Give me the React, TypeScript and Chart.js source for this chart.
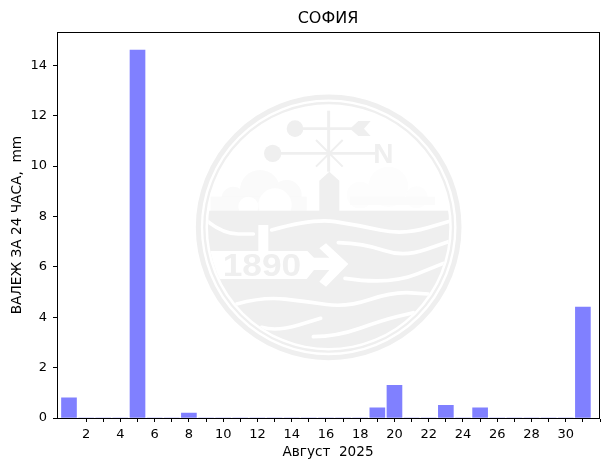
import React, { useEffect, useRef } from "react";
import { Chart, registerables } from "chart.js";

Chart.register(...registerables);

const days = Array.from({ length: 31 }, (_, i) => i + 1);
const rainfall = [
  0.8, 0, 0, 0, 14.6, 0, 0, 0.2, 0, 0, 0, 0, 0, 0, 0, 0, 0, 0, 0.4, 1.3, 0, 0, 0.5, 0, 0.4, 0, 0, 0, 0, 0, 4.4,
];
const xTicks = [2, 3, 4, 5, 6, 7, 8, 9, 10, 11, 12, 13, 14, 15, 16, 17, 18, 19, 20, 21, 22, 23, 24, 25, 26, 27, 28, 29, 30, 31, 32];
const yTicks = [0, 2, 4, 6, 8, 10, 12, 14];
const titleText = "СОФИЯ";
const xTitle = "Август  2025";
const yTitle = "ВАЛЕЖ ЗА 24 ЧАСА,  mm";
const FONT = "'DejaVu Sans'";
const LOGO = "#efefef";

type P = [number, number];
const waves: P[][] = [
  [[50, 392], [100, 432], [190, 432]],
  [[245, 420], [370, 385], [500, 405], [640, 435], [785, 392]],
  [[445, 458], [520, 460], [640, 502], [775, 455]],
  [[465, 565], [600, 585], [760, 520]],
  [[140, 642], [220, 620], [350, 635], [470, 652], [610, 605], [715, 612]],
  [[215, 712], [260, 725], [392, 685]],
  [[370, 740], [440, 740], [580, 690], [670, 668]],
];
const banner: P[] = [
  [40, 483], [352, 483], [372, 503], [418, 503], [388, 475], [408, 460], [475, 522], [408, 590], [388, 575], [418, 540], [372, 540], [350, 567], [40, 567],
];
const tower: P[] = [[388, 365], [388, 272], [418, 245], [448, 272], [448, 365]];

function drawLogo(c: CanvasRenderingContext2D) {
  const X = (v: number) => 190 + v / 3;
  const Y = (v: number) => 90 + v / 3;
  const R = (v: number) => v / 3;
  const cx = X(416), cy = Y(412);
  const poly = (pts: P[]) => {
    c.beginPath();
    pts.forEach(([a, b], i) => (i ? c.lineTo(X(a), Y(b)) : c.moveTo(X(a), Y(b))));
    c.closePath();
    c.fill();
  };
  const line = (a: number, b: number, d: number, e: number, w: number) => {
    c.lineWidth = R(w);
    c.beginPath();
    c.moveTo(X(a), Y(b));
    c.lineTo(X(d), Y(e));
    c.stroke();
  };
  const disc = (a: number, b: number, r: number) => {
    c.beginPath();
    c.arc(X(a), Y(b), R(r), 0, Math.PI * 2);
    c.fill();
  };
  c.save();
  c.strokeStyle = LOGO;
  c.fillStyle = LOGO;
  c.lineWidth = R(15);
  c.beginPath();
  c.arc(cx, cy, R(391), 0, Math.PI * 2);
  c.stroke();
  c.lineWidth = R(7);
  c.beginPath();
  c.arc(cx, cy, R(373), 0, Math.PI * 2);
  c.stroke();

  c.fillStyle = "#fafafa";
  [[210, 300, 60], [130, 325, 35], [290, 315, 45]].forEach(([a, b, r]) => disc(a, b, r));
  c.fillRect(X(62), Y(320), R(288), R(42));
  c.fillStyle = "#ffffff";
  [[255, 345, 50], [175, 350, 30]].forEach(([a, b, r]) => disc(a, b, r));
  c.fillStyle = "#fdfdfd";
  [[595, 290, 60], [510, 315, 40], [680, 322, 33]].forEach(([a, b, r]) => disc(a, b, r));
  c.fillStyle = "#fbfbfb";
  c.fillRect(X(480), Y(320), R(255), R(25));
  c.fillStyle = LOGO;

  // lower half
  c.save();
  c.beginPath();
  c.arc(cx, cy, R(362), 0, Math.PI * 2);
  c.clip();
  c.fillRect(X(30), Y(362), R(780), R(440));
  c.fillStyle = "#ffffff";
  c.strokeStyle = "#ffffff";
  c.lineCap = "round";
  c.lineWidth = R(11);
  waves.forEach((w) => {
    c.beginPath();
    c.moveTo(X(w[0][0]), Y(w[0][1]));
    for (let i = 1; i < w.length - 1; i++) {
      const mx = (w[i][0] + w[i + 1][0]) / 2, my = (w[i][1] + w[i + 1][1]) / 2;
      c.quadraticCurveTo(X(w[i][0]), Y(w[i][1]), X(mx), Y(my));
    }
    const l = w[w.length - 1];
    c.lineTo(X(l[0]), Y(l[1]));
    c.stroke();
  });
  poly(banner);
  c.fillRect(X(205), Y(405), R(30), R(82));
  c.restore();

  c.fillStyle = LOGO;
  c.strokeStyle = LOGO;
  c.font = `bold ${R(92)}px 'Liberation Sans'`;
  c.textAlign = "left";
  c.textBaseline = "alphabetic";
  c.save();
  c.translate(X(98), Y(557));
  c.scale(1.15, 1);
  c.fillText("1890", 0, 0);
  c.restore();

  poly(tower);
  line(416, 62, 416, 245, 9);
  line(315, 116, 510, 116, 8);
  line(248, 190, 555, 190, 8);
  line(378, 150, 458, 230, 6);
  line(458, 150, 378, 230, 6);
  disc(315, 116, 25);
  disc(248, 190, 26);
  poly([[480, 116], [505, 93], [542, 93], [522, 116], [542, 138], [505, 138]]);
  c.font = `bold ${R(84)}px 'Liberation Sans'`;
  c.fillText("N", X(550), Y(220));
  c.restore();
}

const decor = {
  id: "decor",
  beforeDatasetsDraw(chart: any) {
    drawLogo(chart.ctx);
  },
  afterDraw(chart: any) {
    const { left, right, top, bottom } = chart.chartArea;
    const c = chart.ctx;
    c.save();
    c.strokeStyle = "#000";
    c.lineWidth = 1;
    c.strokeRect(Math.round(left) + 0.5, Math.round(top) + 0.5, Math.round(right - left), Math.round(bottom - top));
    c.restore();
  },
};

export default function App() {
  const ref = useRef<HTMLCanvasElement>(null);
  useEffect(() => {
    const chart = new Chart(ref.current!, {
      type: "bar",
      data: {
        datasets: [
          {
            data: days.map((d, i) => ({ x: d, y: rainfall[i] })),
            backgroundColor: "#8080ff",
            barThickness: 15,
            borderWidth: 0,
          },
        ],
      },
      options: {
        animation: false,
        responsive: false,
        layout: { padding: { left: 0, right: 10, top: 0, bottom: 0 } },
        plugins: {
          legend: { display: false },
          tooltip: { enabled: false },
          title: {
            display: true,
            fullSize: false,
            text: titleText,
            color: "#000",
            font: { family: FONT, size: 16, weight: "normal" },
            padding: { top: 9, bottom: 4 },
          },
        },
        scales: {
          x: {
            type: "linear",
            min: 0.3,
            max: 31.94,
            offset: false,
            grid: { display: true, offset: false, drawOnChartArea: false, drawTicks: true, tickLength: 4, tickColor: "#000" },
            border: { color: "#000", width: 1 },
            afterBuildTicks: (s: any) => {
              s.ticks = xTicks.map((value) => ({ value }));
            },
            afterFit: (s: any) => {
              s.height = 52;
            },
            ticks: {
              autoSkip: false,
              maxRotation: 0,
              color: "#000",
              padding: 5,
              font: { family: FONT, size: 13 },
              callback: (v: any) => (v % 2 === 0 && v <= 30 ? String(v) : ""),
            },
            title: { display: true, text: xTitle, color: "#000", font: { family: FONT, size: 13.6 }, padding: { top: 2, bottom: 9 } },
          },
          y: {
            min: 0,
            max: 15.31,
            grid: { drawOnChartArea: false, tickLength: 4, tickColor: "#000" },
            border: { color: "#000", width: 1 },
            afterBuildTicks: (s: any) => {
              s.ticks = yTicks.map((value) => ({ value }));
            },
            afterFit: (s: any) => {
              s.width = 57;
            },
            ticks: { color: "#000", padding: 6, font: { family: FONT, size: 13 } },
            title: { display: true, text: yTitle, color: "#000", font: { family: FONT, size: 13.7 }, padding: { top: 9, bottom: 0 } },
          },
        },
      },
      plugins: [decor],
    } as any);
    return () => chart.destroy();
  }, []);
  return (
    <div style={{ position: "fixed", left: 0, top: 0, width: 609, height: 470, background: "#fff" }}>
      <canvas ref={ref} width={609} height={470} style={{ display: "block" }} />
    </div>
  );
}
